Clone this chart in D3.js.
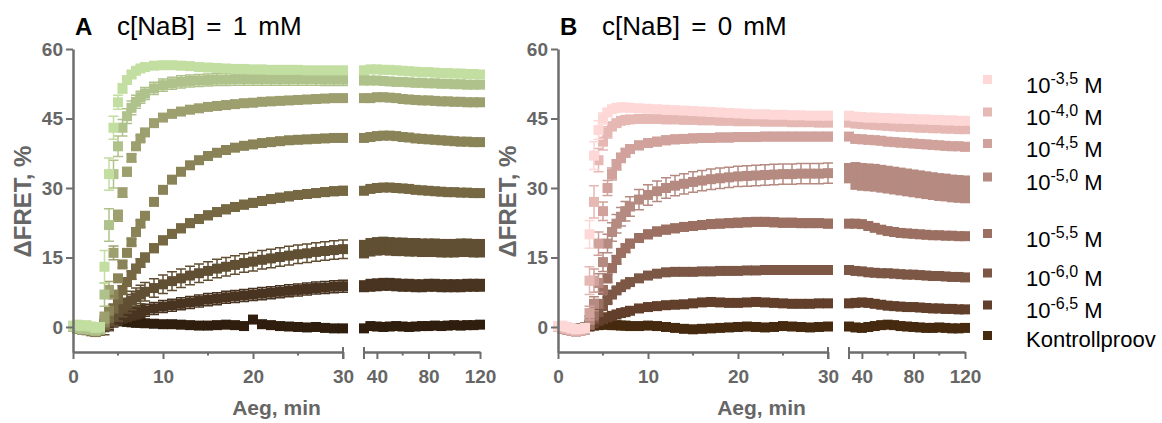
<!DOCTYPE html>
<html>
<head>
<meta charset="utf-8">
<script src="https://cdn.jsdelivr.net/npm/d3@7"></script>
<style>
  body { margin: 0; background: #fff; }
  text { font-family: "Liberation Sans", Arial, sans-serif; }
</style>
</head>
<body>
<svg id="chart" width="1162" height="423"></svg>
<script>
// sampling times, min (denser while the signal rises)
const times = [0, 0.5, 1, 1.5, 2, 2.5, 3, 3.5, 4, 4.5, 5, 5.5, 6, 6.5, 7, 7.5, 8,
  9, 10, 11, 12, 13, 14, 15, 16, 17, 18, 19, 20, 21, 22, 23, 24, 25, 26, 27, 28, 29, 30,
  35, 40, 45, 50, 55, 60, 65, 70, 75, 80, 85, 90, 95, 100, 105, 110, 115, 120];

const concLabels = ["-3,5", "-4,0", "-4,5", "-5,0", "-5,5", "-6,0", "-6,5"];
const controlLabel = "Kontrollproov";

// panel A, c[NaB] = 1 mM  (dFRET, %)
const a35 = [0.3, 0.5, 0.2, 0.4, 0.1, -0.2, 0, 13, 33, 43, 48.5, 51.5, 53.3, 54.5, 55.3, 55.8, 56.1,
  56.4, 56.5, 56.5, 56.4, 56.3, 56.1, 56.0, 55.9, 55.8, 55.7, 55.7, 55.6, 55.6, 55.5, 55.5, 55.5, 55.5, 55.4, 55.4, 55.4, 55.4, 55.4,
  55.6, 55.6, 55.5, 55.5, 55.4, 55.3, 55.2, 55.1, 55.0, 55.0, 54.9, 54.8, 54.8, 54.7, 54.7, 54.6, 54.6, 54.5];
const a40 = [0, -0.3, -0.5, -0.2, -0.6, -0.8, -0.5, 7, 22, 33, 39, 43, 45.5, 47.3, 48.6, 49.6, 50.4,
  51.5, 52.2, 52.6, 52.9, 53.1, 53.2, 53.3, 53.4, 53.4, 53.5, 53.5, 53.5, 53.5, 53.5, 53.5, 53.5, 53.5, 53.5, 53.5, 53.4, 53.4, 53.4,
  53.2, 53.2, 53.1, 53.0, 52.9, 52.9, 52.8, 52.7, 52.7, 52.6, 52.6, 52.5, 52.5, 52.4, 52.4, 52.3, 52.3, 52.3];
const a45 = [0, 0.2, -0.3, -0.5, -0.4, -0.9, -0.6, 2, 8, 16, 24, 29, 33.5, 36.5, 39, 40.7, 42,
  44.0, 45.2, 46.0, 46.5, 46.9, 47.2, 47.5, 47.7, 47.9, 48.1, 48.3, 48.4, 48.6, 48.7, 48.8, 48.9, 49.0, 49.1, 49.2, 49.3, 49.4, 49.4,
  49.4, 49.6, 49.6, 49.5, 49.4, 49.2, 49.1, 49.0, 48.9, 48.9, 48.8, 48.7, 48.7, 48.6, 48.6, 48.5, 48.5, 48.5];
const a50 = [0, -0.4, -0.6, -0.3, -0.8, -1.0, -0.7, 1, 3.5, 7, 10.5, 13.5, 16, 18.3, 20.5, 22.3, 24,
  27.0, 29.6, 31.8, 33.5, 34.9, 36.0, 36.9, 37.6, 38.2, 38.7, 39.1, 39.4, 39.7, 39.9, 40.1, 40.3, 40.4, 40.5, 40.6, 40.7, 40.8, 40.8,
  41.0, 41.2, 41.3, 41.3, 41.2, 41.0, 40.9, 40.7, 40.6, 40.5, 40.4, 40.3, 40.2, 40.1, 40.0, 40.0, 39.9, 39.9];
const a55 = [0, -0.3, -0.4, -0.6, -0.9, -1.1, -0.8, 0.5, 2, 4, 6, 8, 9.7, 11.2, 12.6, 13.8, 15,
  17.0, 18.7, 20.1, 21.3, 22.4, 23.3, 24.1, 24.8, 25.4, 25.9, 26.4, 26.8, 27.2, 27.6, 27.9, 28.2, 28.5, 28.7, 28.9, 29.1, 29.3, 29.4,
  29.8, 30.0, 30.1, 30.1, 30.0, 29.9, 29.8, 29.6, 29.5, 29.4, 29.3, 29.2, 29.1, 29.1, 29.0, 29.0, 28.9, 28.9];
const a60 = [0, -0.2, -0.5, -0.6, -0.8, -1.0, -0.7, 0.3, 1.2, 2.3, 3.3, 4.2, 5, 5.7, 6.4, 7, 7.6,
  8.4, 9.2, 9.9, 10.5, 11.1, 11.6, 12.1, 12.6, 13.0, 13.4, 13.8, 14.1, 14.5, 14.8, 15.1, 15.4, 15.7, 15.9, 16.2, 16.4, 16.6, 16.8,
  17.2, 17.4, 17.5, 17.4, 17.3, 17.3, 17.2, 17.2, 17.1, 17.1, 17.1, 17.0, 17.0, 17.0, 17.1, 17.1, 17.0, 17.0];
const a65 = [0, -0.3, -0.5, -0.7, -0.9, -1.0, -0.8, 0.3, 0.8, 1.3, 1.8, 2.2, 2.5, 2.8, 3.1, 3.3, 3.6,
  4.0, 4.4, 4.7, 5.0, 5.3, 5.6, 5.9, 6.1, 6.4, 6.6, 6.8, 7.0, 7.2, 7.4, 7.6, 7.8, 8.0, 8.2, 8.4, 8.5, 8.7, 8.8,
  9.0, 9.1, 9.2, 9.2, 9.1, 9.0, 9.0, 8.9, 8.9, 9.0, 9.0, 8.9, 8.9, 8.9, 8.9, 9.0, 9.0, 9.0];
const aCtrl = [0, -0.3, -0.4, -0.6, -0.8, -0.9, -0.7, 0.5, 1.0, 1.2, 1.3, 1.2, 1.1, 1.0, 0.9, 0.9, 0.8,
  0.7, 0.6, 0.6, 0.5, 0.4, 0.3, 0.3, 0.4, 0.5, 0.4, 0.2, 1.6, 0.6, 0.4, 0.2, 0.1, 0.0, -0.1, 0.0, -0.2, -0.3, -0.3,
  0.2, 0.1, 0.0, 0.1, 0.2, 0.1, 0.0, 0.1, 0.2, 0.2, 0.3, 0.2, 0.3, 0.4, 0.3, 0.4, 0.4, 0.5];

// panel B, c[NaB] = 0 mM
const b35 = [0.2, 0.3, 0, -0.3, -0.5, -0.4, -0.2, 20, 37, 42.5, 45, 46.3, 47, 47.3, 47.4, 47.4, 47.3,
  47.2, 47.1, 47.0, 46.9, 46.8, 46.7, 46.6, 46.5, 46.4, 46.3, 46.2, 46.1, 46.0, 45.9, 45.9, 45.8, 45.8, 45.7, 45.7, 45.6, 45.6, 45.6,
  45.4, 45.3, 45.2, 45.2, 45.1, 45.1, 45.0, 45.0, 44.9, 44.9, 44.8, 44.8, 44.7, 44.7, 44.6, 44.6, 44.5, 44.5];
const b40 = [0, -0.2, -0.4, -0.6, -0.8, -0.6, -0.4, 10, 27, 36, 40, 42, 43.3, 44, 44.5, 44.7, 44.8,
  44.9, 44.9, 44.9, 44.8, 44.8, 44.7, 44.7, 44.6, 44.6, 44.5, 44.5, 44.4, 44.4, 44.4, 44.3, 44.3, 44.3, 44.2, 44.2, 44.2, 44.1, 44.1,
  43.9, 43.8, 43.7, 43.6, 43.5, 43.4, 43.3, 43.2, 43.2, 43.1, 43.0, 43.0, 42.9, 42.9, 42.8, 42.8, 42.7, 42.7];
const b45 = [0, -0.3, -0.5, -0.7, -0.9, -0.7, -0.5, 3, 10, 18, 25, 30, 33, 35, 36.5, 37.6, 38.4,
  39.2, 39.7, 40.0, 40.3, 40.5, 40.6, 40.7, 40.8, 40.8, 40.9, 40.9, 41.0, 41.0, 41.0, 41.1, 41.1, 41.1, 41.1, 41.1, 41.1, 41.1, 41.1,
  40.6, 40.5, 40.4, 40.3, 40.2, 40.0, 39.9, 39.8, 39.7, 39.6, 39.5, 39.4, 39.3, 39.2, 39.1, 39.0, 39.0, 38.9];
const b50 = [0, -0.4, -0.6, -0.8, -1.0, -0.8, -0.6, 1.5, 5, 9.5, 14, 18, 20.5, 22.3, 23.8, 25, 26,
  27.5, 28.5, 29.3, 30.0, 30.5, 30.9, 31.3, 31.6, 31.9, 32.1, 32.3, 32.5, 32.6, 32.7, 32.8, 32.9, 33.0, 33.0, 33.1, 33.1, 33.1, 33.2,
  32.6, 32.4, 32.3, 32.2, 32.0, 31.8, 31.6, 31.4, 31.2, 31.0, 30.8, 30.6, 30.4, 30.2, 30.1, 29.9, 29.8, 29.7];
const b55 = [0, -0.3, -0.5, -0.7, -0.8, -0.6, -0.4, 0.5, 2.5, 5, 8, 10.5, 12.7, 14.5, 16, 17, 18,
  19.2, 20.0, 20.6, 21.0, 21.3, 21.6, 21.8, 22.0, 22.2, 22.3, 22.4, 22.5, 22.6, 22.7, 22.7, 22.6, 22.5, 22.5, 22.4, 22.4, 22.4, 22.3,
  22.3, 22.2, 21.8, 21.4, 21.0, 20.7, 20.5, 20.3, 20.2, 20.1, 20.0, 19.9, 19.8, 19.8, 19.7, 19.7, 19.6, 19.6];
const b60 = [0, -0.2, -0.4, -0.6, -0.7, -0.5, -0.3, 0.5, 1.8, 3.2, 4.5, 5.8, 7, 7.9, 8.6, 9.2, 9.7,
  10.5, 11.1, 11.5, 11.8, 11.9, 11.9, 11.9, 12.0, 12.0, 12.1, 12.1, 12.1, 12.2, 12.2, 12.3, 12.3, 12.3, 12.3, 12.3, 12.3, 12.3, 12.3,
  12.1, 12.0, 11.8, 11.7, 11.6, 11.6, 11.5, 11.4, 11.3, 11.3, 11.2, 11.1, 11.0, 11.0, 10.9, 10.8, 10.8, 10.7];
const b65 = [0, -0.2, -0.3, -0.5, -0.6, -0.4, -0.2, 0.3, 0.8, 1.3, 1.7, 2.1, 2.4, 2.7, 3.0, 3.2, 3.5,
  4.0, 4.3, 4.5, 4.7, 4.8, 4.9, 5.1, 5.3, 5.4, 5.3, 5.2, 5.2, 5.3, 5.4, 5.3, 5.2, 5.1, 5.0, 5.0, 5.0, 5.1, 5.1,
  5.2, 5.3, 5.2, 5.0, 4.8, 4.6, 4.5, 4.4, 4.3, 4.3, 4.2, 4.1, 4.0, 4.0, 3.9, 3.9, 3.8, 3.8];
const bCtrl = [0, -0.1, -0.3, -0.4, -0.5, -0.3, -0.1, 0.1, 0.3, 0.4, 0.5, 0.5, 0.4, 0.4, 0.3, 0.3, 0.2,
  0.2, 0.3, 0.2, 0.0, -0.2, -0.4, -0.5, -0.4, -0.3, -0.2, -0.1, 0.0, 0.1, 0.0, -0.1, 0.0, 0.2, 0.1, 0.0, -0.1, 0.0, 0.1,
  -0.1, -0.2, 0.0, 0.2, 0.4, 0.5, 0.4, 0.2, 0.1, 0.0, -0.1, -0.2, -0.2, -0.1, -0.2, -0.3, -0.3, -0.2];

// SEM: baseline, plateau up to 30 min, after the break, and while rising (3.5..8 min)
const semBase = 0.4;
const semA1 = [0.6, 1.3, 0.6, 0.7, 0.9, 2.0, 1.3, 0.5];
const semA2 = [0.6, 0.9, 0.7, 0.5, 0.9, 2.0, 1.4, 0.7];
const semB1 = [0.5, 0.6, 0.9, 2.2, 0.9, 0.6, 0.6, 0.6];
const semB2 = [0.6, 0.6, 1.0, 3.0, 0.7, 0.5, 0.5, 0.6];
const riseA35 = [3.5, 3.5, 2.5, 1.5, 1.0, 0.8, 0.7, 0.6, 0.6, 0.6];
const riseA40 = [2.5, 3.5, 3.0, 2.2, 1.8, 1.6, 1.5, 1.4, 1.3, 1.3];
const riseA45 = [1.2, 1.8, 1.5, 1.2, 1.0, 0.9, 0.8, 0.7, 0.6, 0.6];
const riseB35 = [3.0, 3.0, 2.0, 1.2, 0.8, 0.6, 0.5, 0.5, 0.5, 0.5];
const riseB40 = [3.0, 3.5, 2.5, 1.8, 1.2, 0.9, 0.7, 0.6, 0.6, 0.6];
const riseB45 = [1.5, 2.5, 2.5, 2.0, 1.6, 1.3, 1.1, 1.0, 0.9, 0.9];
const riseB50 = [0.8, 1.5, 2.0, 2.0, 2.0, 2.0, 2.0, 2.0, 2.1, 2.1];

const colorsA = ["#c2dea0", "#b0c28b", "#9d9f6f", "#8a8357", "#766843", "#604f33", "#483421", "#2f1e0e"];
const colorsB = ["#fdd8d7", "#e6b8b4", "#d0a29b", "#b58a80", "#9b6f61", "#7d5746", "#613f2a", "#462a0f"];

const svg = d3.select("#chart");
const axisColor = "#6e6e6e", labelColor = "#666";

const y = d3.scaleLinear().domain([-5.4, 60]).range([352, 49]);
const box = 10; // marker size

function semAt(k, i, t, sem1, sem2, rise) {
    if (i < 7) return semBase;
    if (rise[k] && i < 17) return rise[k][i - 7];
    return t > 30 ? sem2[k] : sem1[k];
}

function drawPanel(x0, series, colors, sem1, sem2, rise, letter, title) {
    let g = svg.append("g").attr("transform", `translate(${x0},0)`);
    let xs = [d3.scaleLinear().domain([0, 30]).range([0, 270]),
              d3.scaleLinear().domain([30, 120]).range([291, 407])];

    // control first, highest concentration on top
    for (let k = series.length - 1; k >= 0; k--) {
        let pts = times.map((t, i) => ({t: t, v: series[k][i], e: semAt(k, i, t, sem1, sem2, rise)}));
        let sg = g.append("g").attr("fill", colors[k]).attr("stroke", colors[k]);

        xs.forEach((x, s) => {
            let seg = pts.filter(p => p.t >= x.domain()[0] && p.t <= x.domain()[1]);
            if (s === 0) {
                sg.append("path")
                    .attr("fill", "none")
                    .attr("stroke-width", 1.5)
                    .attr("d", seg.map(p => {
                        let cx = x(p.t), hi = y(p.v + p.e), lo = y(p.v - p.e);
                        return `M${cx - box / 2},${hi}H${cx + box / 2}M${cx},${hi}V${lo}M${cx - box / 2},${lo}H${cx + box / 2}`;
                    }).join(""));
            } else {
                // dense points after the break: whiskers merge into a solid band
                sg.selectAll(null)
                    .data(seg)
                    .join("rect")
                    .attr("stroke", "none")
                    .attr("x", p => x(p.t) - box / 2)
                    .attr("y", p => y(p.v + p.e))
                    .attr("width", box)
                    .attr("height", p => y(p.v - p.e) - y(p.v + p.e));
            }
            sg.selectAll(null)
                .data(seg)
                .join("rect")
                .attr("stroke", "none")
                .attr("x", p => x(p.t) - box / 2)
                .attr("y", p => y(p.v) - box / 2)
                .attr("width", box)
                .attr("height", box);
        });
    }

    // y axis
    let ya = g.append("g")
        .call(d3.axisLeft(y).tickValues([0, 15, 30, 45, 60]).tickSize(7).tickPadding(3).tickSizeOuter(0));

    // x axis, two segments with a break between them
    let majors = [[0, 10, 20, 30], [40, 80, 120]];
    let minors = [[5, 15, 25], [60, 100]];
    let xas = xs.map((x, s) => {
        let a = g.append("g")
            .attr("transform", "translate(0,352)")
            .call(d3.axisBottom(x).tickValues(majors[s]).tickSize(7).tickSizeOuter(0));
        a.selectAll(".tick text").attr("y", 18);
        a.selectAll(null)
            .data(minors[s])
            .join("line")
            .attr("x1", d => x(d)).attr("x2", d => x(d))
            .attr("y1", 0).attr("y2", 3.5);
        a.append("line").attr("x1", x(30)).attr("x2", x(30)).attr("y1", -5).attr("y2", 7);
        return a;
    });

    [ya, ...xas].forEach(a => {
        a.select(".domain").attr("stroke", axisColor).attr("stroke-width", 2.5);
        a.selectAll("line").attr("stroke", axisColor).attr("stroke-width", 2);
        a.selectAll("text")
            .attr("fill", labelColor)
            .style("font-size", "19px")
            .style("font-weight", "bold")
            .style("font-family", '"Liberation Sans", Arial, sans-serif');
    });

    g.append("text")
        .attr("x", 203.5).attr("y", 415)
        .attr("text-anchor", "middle")
        .attr("fill", labelColor)
        .style("font-size", "21px").style("font-weight", "bold")
        .text("Aeg, min");

    g.append("text")
        .attr("transform", "translate(-42,201.5) rotate(-90)")
        .attr("text-anchor", "middle")
        .attr("fill", labelColor)
        .style("font-size", "24px").style("font-weight", "bold")
        .text("\u0394FRET, %");

    g.append("text")
        .attr("x", 2).attr("y", 35)
        .style("font-size", "24px").style("font-weight", "bold")
        .text(letter);
    g.append("text")
        .attr("x", 44).attr("y", 35)
        .style("font-size", "26px")
        .style("word-spacing", "4px")
        .text(title);
    return g;
}

drawPanel(73, [a35, a40, a45, a50, a55, a60, a65, aCtrl], colorsA, semA1, semA2,
    [riseA35, riseA40, riseA45, null, null, null, null, null], "A", "c[NaB] = 1 mM");
drawPanel(558, [b35, b40, b45, b50, b55, b60, b65, bCtrl], colorsB, semB1, semB2,
    [riseB35, riseB40, riseB45, riseB50, null, null, null, null], "B", "c[NaB] = 0 mM");

// legend (panel B colours)
let legendY = [79.5, 112, 143.5, 177, 233.5, 273, 305, 335.5];
let legend = svg.append("g");
colorsB.forEach((c, i) => {
    legend.append("rect")
        .attr("x", 983).attr("y", legendY[i] - 4.5)
        .attr("width", 9).attr("height", 9)
        .attr("fill", c);
    let t = legend.append("text")
        .attr("x", 1026).attr("y", legendY[i] + 13)
        .style("font-size", "22px")
        .attr("fill", "#000");
    if (i < concLabels.length) {
        t.append("tspan").text("10");
        t.append("tspan").attr("dy", -9).style("font-size", "16px").text(concLabels[i]);
        t.append("tspan").attr("dy", 9).text(" M");
    } else {
        t.attr("y", legendY[i] + 11).text(controlLabel);
    }
});
</script>
</body>
</html>
